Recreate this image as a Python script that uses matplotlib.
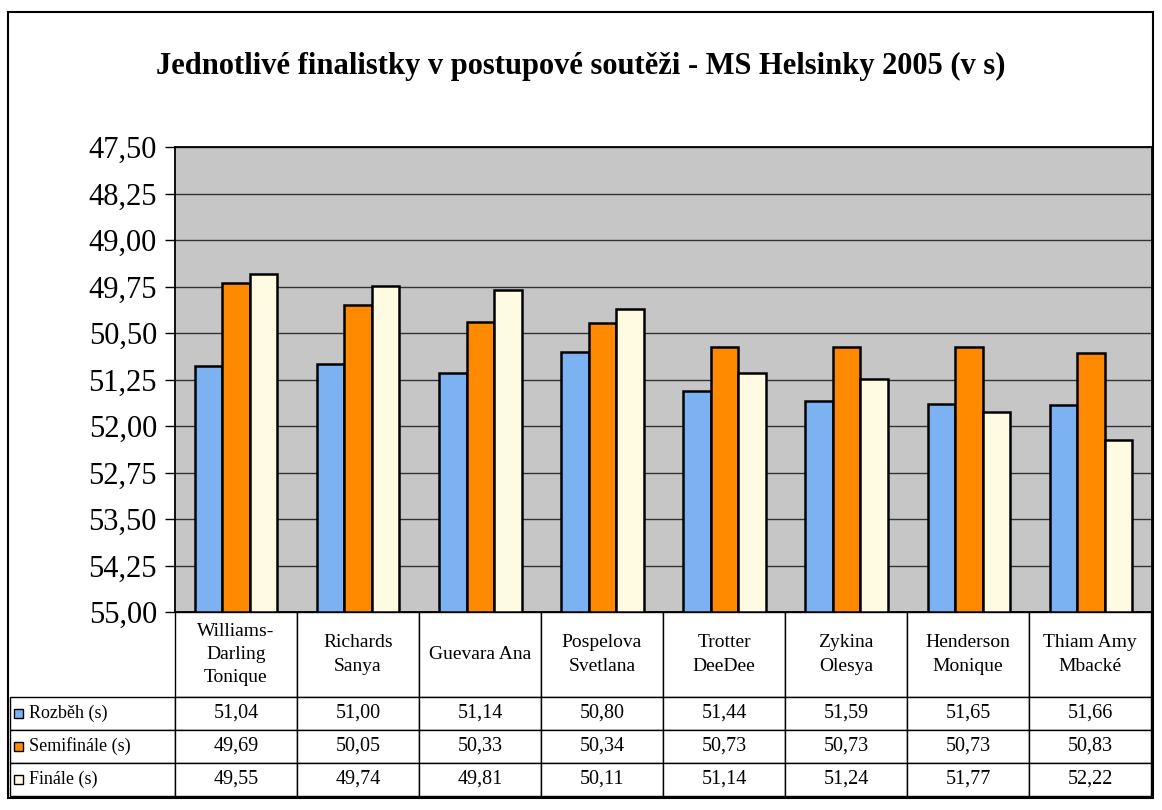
import numpy as np
import matplotlib
matplotlib.use("Agg")
import matplotlib.pyplot as plt
from matplotlib.patches import Rectangle

athletes = ["Williams-\nDarling\nTonique", "Richards\nSanya", "Guevara Ana",
            "Pospelova\nSvetlana", "Trotter\nDeeDee", "Zykina\nOlesya",
            "Henderson\nMonique", "Thiam Amy\nMbacké"]
series = ["Rozběh (s)", "Semifinále (s)", "Finále (s)"]
rozbeh = [51.04, 51.00, 51.14, 50.80, 51.44, 51.59, 51.65, 51.66]
semifinale = [49.69, 50.05, 50.33, 50.34, 50.73, 50.73, 50.73, 50.83]
finale = [49.55, 49.74, 49.81, 50.11, 51.14, 51.24, 51.77, 52.22]
yticks = np.arange(47.5, 55.01, 0.75)
colors = ["#7db2f2", "#ff8a00", "#fffbe3"]

plt.rcParams["font.family"] = ["Liberation Serif", "DejaVu Serif"]

W, H = 1162, 810
AW, AH = 977, 465  # axes size in pixels
fig = plt.figure(figsize=(W / 100, H / 100), dpi=100)
ax = fig.add_axes([175 / W, 1 - 612 / H, AW / W, AH / H])
ax.set_facecolor("#c6c6c6")

x = np.arange(len(athletes))
bw = 0.225
for i, (vals, c) in enumerate(zip([rozbeh, semifinale, finale], colors)):
    ax.bar(x + (i - 1) * bw, np.array(vals) - 55, bottom=55, width=bw,
           color=c, edgecolor="black", linewidth=1.8, zorder=3)

ax.set_xlim(-0.5, len(athletes) - 0.5)
ax.set_ylim(55, 47.5)
ax.set_yticks(yticks)
ax.set_yticklabels([f"{v:.2f}".replace(".", ",") for v in yticks], fontsize=22)
ax.yaxis.grid(True, color="#333333", linewidth=1)
ax.set_axisbelow(True)
ax.set_xticks([])
ax.tick_params(axis="y", length=7, width=1, pad=6)
for s in ax.spines.values():
    s.set_linewidth(1.3)

fig.text(0.5, 1 - 66 / H, "Jednotlivé finalistky v postupové soutěži - MS Helsinky 2005 (v s)",
         ha="center", va="center", fontsize=22, fontweight="bold")

# data table under the plot, sizes in axes units so the bbox does not rescale
cell_text = [[f"{v:.2f}".replace(".", ",") for v in s] for s in [rozbeh, semifinale, finale]]
label_w, col_w = 165 / AW, 122 / AW
head_h, row_h = 85 / AH, 33 / AH
tbl_h = head_h + 3 * row_h
tbl = ax.table(cellText=cell_text, rowLabels=series, colLabels=athletes,
               cellLoc="center", rowLoc="left",
               bbox=[0, -tbl_h, 8 * col_w, tbl_h])
tbl._autoColumns = []  # keep the fixed label column width
tbl.auto_set_font_size(False)
for (r, c), cell in tbl.get_celld().items():
    cell.set_width(label_w if c == -1 else col_w)
    cell.set_height(head_h if r == 0 else row_h)
    cell.set_linewidth(1)
    txt = cell.get_text()
    if r == 0:
        txt.set_fontsize(14)
        txt.set_linespacing(1.5)
    elif c == -1:
        txt.set_fontsize(13)
        cell.PAD = 0.115
    else:
        txt.set_fontsize(14.5)

for i, c in enumerate(colors):
    yc = -(head_h + row_h * (i + 0.5))
    ax.add_patch(Rectangle(((14 - 175) / AW, yc - 4.5 / AH), 9 / AW, 9 / AH,
                           transform=ax.transAxes, facecolor=c, edgecolor="black",
                           linewidth=1, clip_on=False, zorder=5))

fig.add_artist(Rectangle((8 / W, 1 - 798 / H), (1153 - 8) / W, (798 - 12) / H,
                         transform=fig.transFigure, fill=False, lw=1.5, ec="black"))

fig.savefig("out.png", dpi=100)
